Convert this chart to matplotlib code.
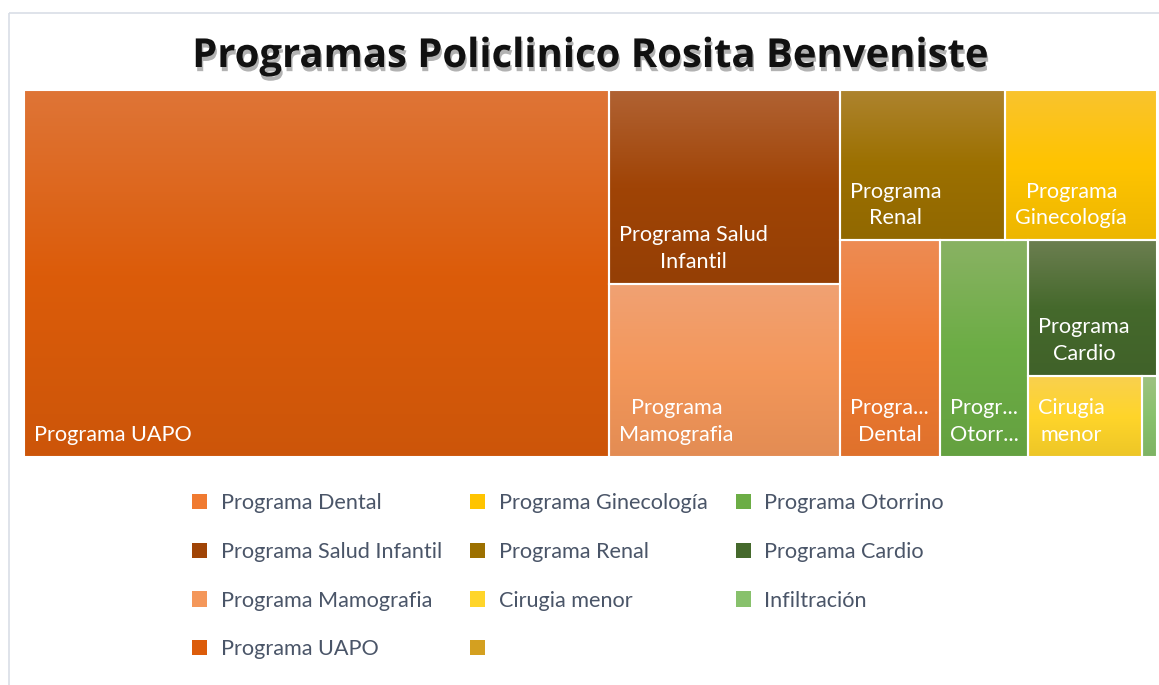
import numpy as np
import matplotlib
matplotlib.use('Agg')
import matplotlib.pyplot as plt
import matplotlib.patheffects as pe
from matplotlib.patches import Rectangle
from matplotlib.font_manager import FontProperties
from matplotlib.colors import to_rgb

# Data (legend order)
labels = ['Programa Dental', 'Programa Salud Infantil', 'Programa Mamografia', 'Programa UAPO',
          'Programa Ginecología', 'Programa Renal', 'Cirugia menor', '',
          'Programa Otorrino', 'Programa Cardio', 'Infiltración']
values = [52, 108, 96, 517, 55, 60, 22, 0, 46, 42, 3]
colors = ['#F07A30', '#A04406', '#F4975A', '#DC5C0A', '#FFC400', '#9C7000', '#FFD52A', '#D4A020',
          '#6CAD45', '#45692C', '#88C16C']
title = 'Programas Policlinico Rosita Benveniste'

# how Excel nested the tiles ('h' = side by side, 'v' = stacked)
tree = ('h', ['Programa UAPO',
              ('h', [('v', ['Programa Salud Infantil', 'Programa Mamografia']),
                     ('v', [('h', ['Programa Renal', 'Programa Ginecología']),
                            ('h', ['Programa Dental', 'Programa Otorrino',
                                   ('v', ['Programa Cardio', ('h', ['Cirugia menor', 'Infiltración'])])])])])])

plt.rcParams['font.family'] = ['Lato', 'DejaVu Sans']

W, H = 1159, 685
fig = plt.figure(figsize=(W / 100, H / 100), dpi=100)
ax = fig.add_axes([0, 0, 1, 1])
ax.axis('off')


def node_value(n):
    if isinstance(n, str):
        return values[labels.index(n)]
    return sum(node_value(k) for k in n[1])


def layout(n, x0, y0, x1, y1, out):
    if isinstance(n, str):
        out[n] = (x0, y0, x1, y1)
        return
    d, kids = n
    tot = node_value(n)
    pos = x0 if d == 'h' else y0
    for k in kids:
        f = node_value(k) / tot
        if d == 'h':
            w = (x1 - x0) * f
            layout(k, pos, y0, pos + w, y1, out)
            pos += w
        else:
            h = (y1 - y0) * f
            layout(k, x0, pos, x1, pos + h, out)
            pos += h


def shade(c, f):
    c = np.array(to_rgb(c))
    if f > 0:
        return c * (1 - f) + np.array([0.90, 0.76, 0.76]) * f
    return c * (1 + f)


rects = {}
layout(tree, 24, 89.5, 1157, 456.5, rects)

renderer = fig.canvas.get_renderer()
fp = FontProperties(family=['Lato', 'DejaVu Sans'], size=15.6)


def tw(s):
    return renderer.get_text_width_height_descent(s, fp, ismath=False)[0]


def fit_label(text, wrap_w, cut_w):
    lines, cur = [], ''
    for w in text.split():
        trial = (cur + ' ' + w).strip()
        if tw(trial) <= wrap_w:
            cur = trial
        else:
            if cur:
                lines.append(cur)
            cur = w
    lines.append(cur)
    out = []
    for ln in lines:
        if tw(ln) > cut_w:
            while len(ln) > 1 and tw(ln + '...') > cut_w:
                ln = ln[:-1]
            if tw(ln + '...') > cut_w:
                return None
            ln += '...'
        out.append(ln)
    return '\n'.join(out)


t = np.linspace(0, 1, 64)
for name, (x0, y0, x1, y1) in rects.items():
    c = colors[labels.index(name)]
    stops = np.array([shade(c, 0.24), to_rgb(c), shade(c, -0.07)])
    img = np.stack([np.interp(t, [0, 0.5, 1], stops[:, i]) for i in range(3)], axis=1)
    ax.imshow(img[:, None, :], extent=(x0, x1, y1, y0), aspect='auto',
              interpolation='bilinear', zorder=1)
    ax.add_patch(Rectangle((x0, y0), x1 - x0, y1 - y0, fill=False, ec='white', lw=1.5, zorder=2))
    lab = fit_label(name, x1 - x0 - 22, x1 - x0 - 17)
    if lab:
        ax.text(x0 + 10, y1 - 12, lab, ha='left', va='bottom', multialignment='center',
                color='white', fontproperties=fp, linespacing=1.4, zorder=3)

ax.set_xlim(0, W)
ax.set_ylim(H, 0)

# chart border
ax.add_patch(Rectangle((8.5, 12.5), W + 20, H + 20, fill=False, ec='#D9DEE6', lw=1.2,
                       zorder=0, clip_on=False))

ax.text(590, 67, title, ha='center', va='baseline', fontsize=28.8, fontweight='bold',
        family=['Open Sans', 'DejaVu Sans'], color='#111111', zorder=3,
        path_effects=[pe.SimplePatchShadow(offset=(1, -3), shadow_rgbFace='#555555', alpha=0.45),
                      pe.Normal()])

handles = [Rectangle((0, 0), 1, 1, fc=c, ec='none') for c in colors]
ax.legend(handles, labels, ncol=3, loc='upper left', bbox_to_anchor=(192 / W, 1 - 493 / H),
          frameon=False, prop=fp, handlelength=0.7, handleheight=0.7, handletextpad=0.62,
          columnspacing=1.3, labelspacing=1.33, labelcolor='#4A5568', borderpad=0,
          borderaxespad=0)

fig.savefig('out.png', dpi=100, facecolor='white')
